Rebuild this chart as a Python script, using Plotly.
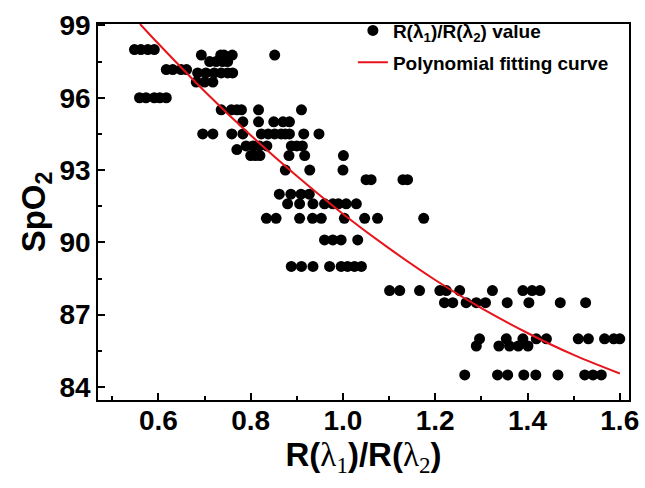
import plotly.graph_objects as go

# Scatter data: SpO2 rows and R(λ1)/R(λ2) ratios
row_98_0 = [0.548, 0.562, 0.577, 0.591]
row_97_77 = [0.693, 0.735, 0.742, 0.760, 0.852]
row_97_5 = [0.711, 0.725, 0.739, 0.750]
row_97_17 = [0.617, 0.631, 0.649, 0.661]
row_97_03 = [0.685, 0.703, 0.721, 0.736, 0.750, 0.761]
row_96_65 = [0.682, 0.700, 0.718]
row_96_0 = [0.559, 0.573, 0.591, 0.603, 0.617]
row_95_5 = [0.736, 0.758, 0.770, 0.780, 0.817, 0.910]
row_95_0 = [0.783, 0.817, 0.850, 0.870, 0.884]
row_94_5 = [0.696, 0.718, 0.759, 0.783, 0.823, 0.838, 0.852, 0.866, 0.875, 0.884, 0.915, 0.948]
row_94_0 = [0.790, 0.805, 0.819, 0.835, 0.888, 0.900, 0.912]
row_93_85 = [0.770]
row_93_6 = [0.800, 0.810, 0.820, 0.883, 0.917, 1.001]
row_93_0 = [0.875, 0.928, 1.000]
row_92_6 = [1.050, 1.061, 1.130, 1.140]
row_92_0 = [0.862, 0.887, 0.909, 0.927]
row_91_6 = [0.880, 0.906, 0.935, 0.960, 0.978, 0.990, 1.007, 1.029]
row_91_0 = [0.834, 0.855, 0.906, 0.934, 0.953, 1.003, 1.047, 1.075, 1.175]
row_90_1 = [0.960, 0.978, 0.996, 1.032]
row_89_0 = [0.888, 0.910, 0.935, 0.971, 0.996, 1.010, 1.025, 1.040]
row_88_0 = [1.101, 1.123, 1.166, 1.210, 1.224, 1.253, 1.324, 1.390, 1.410, 1.427]
row_87_5 = [1.220, 1.238, 1.267, 1.289, 1.309, 1.356, 1.403, 1.471, 1.526]
row_86_0 = [1.296, 1.354, 1.390, 1.419, 1.441, 1.510, 1.532, 1.567, 1.587, 1.600]
row_85_7 = [1.289, 1.338, 1.361, 1.380, 1.401]
row_84_5 = [1.264, 1.335, 1.357, 1.392, 1.418, 1.466, 1.524, 1.542, 1.560]

rows = [
    (98.0, row_98_0), (97.77, row_97_77), (97.5, row_97_5), (97.17, row_97_17),
    (97.03, row_97_03), (96.65, row_96_65), (96.0, row_96_0), (95.5, row_95_5),
    (95.0, row_95_0), (94.5, row_94_5), (94.0, row_94_0), (93.85, row_93_85),
    (93.6, row_93_6), (93.0, row_93_0), (92.6, row_92_6), (92.0, row_92_0),
    (91.6, row_91_6), (91.0, row_91_0), (90.1, row_90_1), (89.0, row_89_0),
    (88.0, row_88_0), (87.5, row_87_5), (86.0, row_86_0), (85.7, row_85_7),
    (84.5, row_84_5),
]

# Polynomial fitting curve
curve_x = [0.56, 0.60, 0.70, 0.80, 0.90, 1.00, 1.10, 1.20, 1.30, 1.40, 1.50, 1.60]
curve_y = [99.06, 98.24, 96.27, 94.44, 92.75, 91.18, 89.75, 88.44, 87.27, 86.24, 85.33, 84.56]

x_ticks = [0.6, 0.8, 1.0, 1.2, 1.4, 1.6]
y_ticks = [84, 87, 90, 93, 96, 99]

scatter_x = [x for _, xs in rows for x in xs]
scatter_y = [y for y, xs in rows for _ in xs]

FONT = "Arial, 'Liberation Sans', sans-serif"

fig = go.Figure()
fig.add_trace(go.Scatter(
    x=scatter_x, y=scatter_y, mode="markers",
    marker=dict(color="black", size=11),
    name="R(λ<sub>1</sub>)/R(λ<sub>2</sub>) value",
    legendgroup="a",
))
fig.add_trace(go.Scatter(
    x=curve_x, y=curve_y, mode="lines", line=dict(color="#e8141b", width=2, shape="spline"),
    name="Polynomial fitting curve",
    legendgroup="b",
))

serif = "font-family:'Times New Roman','Liberation Serif',serif;font-weight:normal"
xtitle = (f"R(<span style=\"{serif}\">λ<sub>1</sub></span>)/"
          f"R(<span style=\"{serif}\">λ<sub>2</sub></span>)")

axis_common = dict(
    showline=True, linecolor="black", linewidth=1.5, mirror=True,
    ticks="inside", ticklen=7, tickwidth=1.5, tickcolor="black",
    showgrid=False, zeroline=False, automargin=False, ticklabeloverflow="allow",
    tickfont=dict(family=FONT, size=28, color="black", weight="bold"),
)

fig.update_layout(
    width=645, height=488,
    margin=dict(l=98, r=16, t=13, b=88),
    paper_bgcolor="white", plot_bgcolor="white",
    font=dict(family=FONT, color="black"),
    xaxis=dict(
        range=[0.469, 1.62], tickvals=x_ticks, ticktext=[f"{v:.1f}" for v in x_ticks],
        minor=dict(ticks="inside", ticklen=4, tickwidth=1.5, tickcolor="black", dtick=0.1, tick0=0.5),
        ticklabelstandoff=-5,
        title=dict(text=xtitle, font=dict(family=FONT, size=33, color="black", weight="bold"), standoff=7),
        **axis_common,
    ),
    yaxis=dict(
        range=[83.46, 99.06], tickvals=y_ticks,
        minor=dict(ticks="inside", ticklen=4, tickwidth=1.5, tickcolor="black", dtick=1.5, tick0=84),
        title=dict(text="SpO<sub>2</sub>", font=dict(family=FONT, size=33, color="black", weight="bold"), standoff=4),
        **axis_common,
    ),
    legend=dict(
        x=0.48, y=1.033, xanchor="left", yanchor="top",
        bgcolor="rgba(0,0,0,0)", borderwidth=0,
        font=dict(family=FONT, size=19, color="black", weight="bold"),
        tracegroupgap=4,
    ),
    showlegend=True,
)

fig.write_html("out.html", post_script="document.body.style.margin='0';",
               config={"displayModeBar": False})
